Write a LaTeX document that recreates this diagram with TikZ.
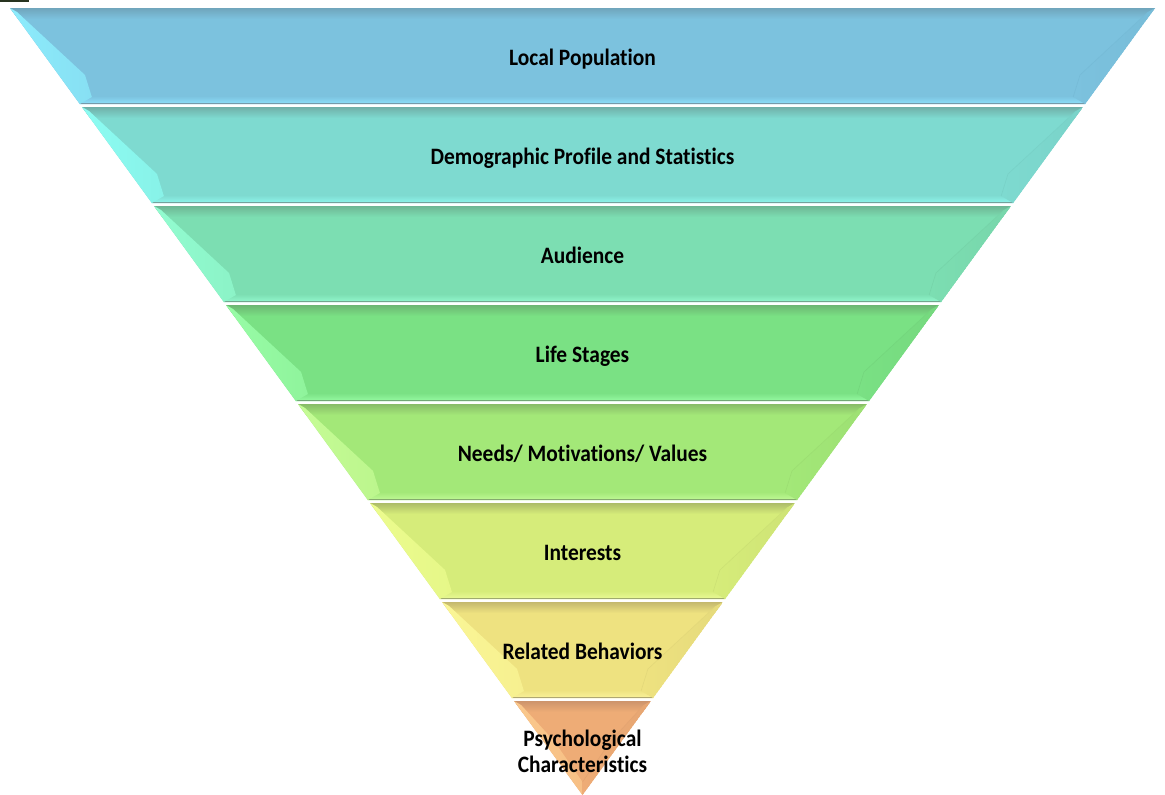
\documentclass[tikz,border=0pt]{standalone}
\usepackage{fontspec}
\setmainfont{Carlito}[Ligatures=NoCommon]
\definecolor{markc}{RGB}{40,52,32}
\definecolor{mainA}{RGB}{124,194,222}\definecolor{darkA}{RGB}{112,165,188}\definecolor{lightA}{RGB}{140,224,252}\definecolor{leftA}{RGB}{140,236,252}\definecolor{rightA}{RGB}{112,180,208}
\definecolor{mainB}{RGB}{126,218,208}\definecolor{darkB}{RGB}{112,175,168}\definecolor{lightB}{RGB}{142,246,236}\definecolor{leftB}{RGB}{140,252,242}\definecolor{rightB}{RGB}{114,200,190}
\definecolor{mainC}{RGB}{124,222,178}\definecolor{darkC}{RGB}{110,182,148}\definecolor{lightC}{RGB}{146,248,206}\definecolor{leftC}{RGB}{146,252,208}\definecolor{rightC}{RGB}{112,202,160}
\definecolor{mainD}{RGB}{122,225,132}\definecolor{darkD}{RGB}{108,182,114}\definecolor{lightD}{RGB}{150,250,162}\definecolor{leftD}{RGB}{152,252,166}\definecolor{rightD}{RGB}{110,204,118}
\definecolor{mainE}{RGB}{163,232,120}\definecolor{darkE}{RGB}{136,188,104}\definecolor{lightE}{RGB}{192,250,150}\definecolor{leftE}{RGB}{198,252,150}\definecolor{rightE}{RGB}{148,212,108}
\definecolor{mainF}{RGB}{214,236,122}\definecolor{darkF}{RGB}{172,188,104}\definecolor{lightF}{RGB}{234,250,150}\definecolor{leftF}{RGB}{236,252,142}\definecolor{rightF}{RGB}{194,214,110}
\definecolor{mainG}{RGB}{238,226,128}\definecolor{darkG}{RGB}{196,184,110}\definecolor{lightG}{RGB}{250,242,154}\definecolor{leftG}{RGB}{250,246,150}\definecolor{rightG}{RGB}{216,206,116}
\definecolor{mainH}{RGB}{238,172,118}\definecolor{darkH}{RGB}{205,148,108}\definecolor{lightH}{RGB}{248,200,146}\definecolor{leftH}{RGB}{250,200,140}\definecolor{rightH}{RGB}{218,156,108}
\newcommand\tallt[1]{\scalebox{1.02}[1.12]{#1}}
\begin{document}
\begin{tikzpicture}[x=1pt,y=-1pt,
  lbl/.style={font=\fontsize{21}{26}\selectfont\bfseries, text=black, inner sep=0pt, align=center}]
\useasboundingbox (0,0) rectangle (1165,795);
\fill[white] (0,0) rectangle (1165,795);
\fill[markc] (0,0) rectangle (29,1.8);
\foreach \i/\c/\txt in {0/A/{\tallt{Local Population}},1/B/{\tallt{Demographic Profile and Statistics}},2/C/{\tallt{Audience}},3/D/{\tallt{Life Stages}},4/E/{\tallt{Needs/ Motivations/ Values}},5/F/{\tallt{Interests}},6/G/{\tallt{Related Behaviors}},7/H/{\tallt{Psychological}\\\tallt{Characteristics}}}{
  \pgfmathsetmacro\t{8+99*\i}
  \ifnum\i=7 \def\b{795}\else\pgfmathsetmacro\b{\t+96}\fi
  \pgfmathsetmacro\xlt{10+0.72745*(\t-8)}
  \pgfmathsetmacro\xrt{1155-0.72745*(\t-8)}
  \pgfmathsetmacro\xlb{10+0.72745*(\b-8)}
  \pgfmathsetmacro\xrb{1155-0.72745*(\b-8)}
  \coordinate (TL) at (\xlt,\t);
  \coordinate (TR) at (\xrt,\t);
  \coordinate (BL) at (\xlb,\b);
  \coordinate (BR) at (\xrb,\b);
  \coordinate (iTL) at (\xlt+7,\t+4);
  \coordinate (iTR) at (\xrt-7,\t+4);
  \ifnum\i=7
    \coordinate (mL) at (\xlt+40,\t+40);
    \coordinate (mR) at (\xrt-40,\t+40);
    \coordinate (iBL) at (582.5,782);
    \coordinate (iBR) at (582.5,782);
  \else
    \coordinate (mL) at (\xlt+75,\t+67);
    \coordinate (mR) at (\xrt-75,\t+67);
    \coordinate (iBL) at (\xlb+12,\b-7);
    \coordinate (iBR) at (\xrb-12,\b-7);
  \fi
  \begin{scope}
  \clip (TL) -- (TR) -- (BR) -- (BL) -- cycle;
  % base face
  \fill[main\c] (TL) -- (TR) -- (BR) -- (BL) -- cycle;
  % top face
  \shade[top color=dark\c, bottom color=main\c] (TL) -- (TR) -- ([yshift=-11pt]TR) -- ([yshift=-11pt]TL) -- cycle;
  % bottom face
  \ifnum\i<7
    \shade[top color=main\c, bottom color=light\c] ([yshift=8pt]BL) -- ([yshift=8pt]BR) -- (BR) -- (BL) -- cycle;
    \draw[dark\c!70!gray, line width=1.2pt] ([yshift=0.6pt]BL) -- ([yshift=0.6pt]BR);
  \fi
  % left face
  \shade[left color=left\c, right color=main\c!30!left\c] (TL) -- (iTL) -- (mL) -- (iBL) -- (BL) -- cycle;
  % right face
  \shade[left color=main\c, right color=main\c!60!right\c] (TR) -- (iTR) -- (mR) -- (iBR) -- (BR) -- cycle;
  \draw[main\c!50!right\c, line width=0.6pt] (iTR) -- (mR) -- (iBR);
  \end{scope}
  \ifnum\i=7
    \node[lbl, anchor=center] (t\i) at (582.5,751) {\txt};
  \else
    \node[lbl, anchor=base] (t\i) at (582.5,\t+57) {\txt};
  \fi
}
\end{tikzpicture}
\end{document}
